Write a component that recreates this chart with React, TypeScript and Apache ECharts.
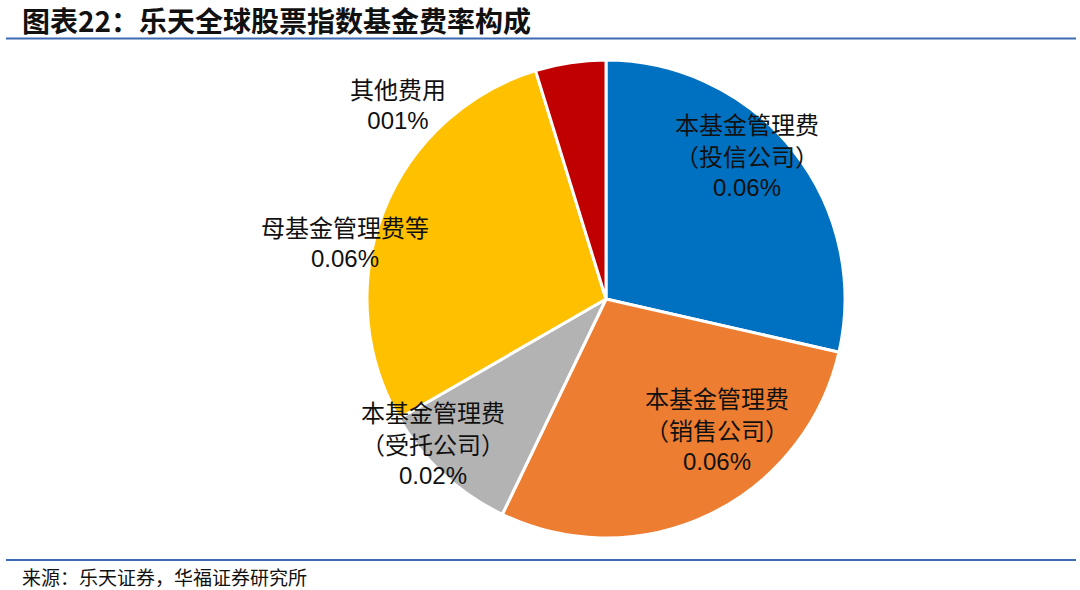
import React, { useEffect, useRef } from "react";
import * as echarts from "echarts";

const categories = [
  "本基金管理费\n（投信公司）",
  "本基金管理费\n（销售公司）",
  "本基金管理费\n（受托公司）",
  "母基金管理费等",
  "其他费用",
];
const values = [0.06, 0.06, 0.02, 0.06, 0.01];
const valueLabels = ["0.06%", "0.06%", "0.02%", "0.06%", "001%"];
const colors = ["#0070C0", "#ED7D31", "#B3B3B3", "#FFC000", "#C00000"];

const titleText = "图表22：乐天全球股票指数基金费率构成";
const sourceText = "来源：乐天证券，华福证券研究所";

// label centre positions (layout only)
const labelPos = [
  [747, 155],
  [717, 429],
  [433, 443],
  [345, 242],
  [398, 104],
];

export default function App() {
  const ref = useRef<HTMLDivElement>(null);
  useEffect(() => {
    document.body.style.margin = "0";
    const chart = echarts.init(ref.current!, null, { renderer: "svg" });
    chart.setOption({
      animation: false,
      backgroundColor: "#ffffff",
      graphic: [
        {
          type: "text",
          x: 22,
          y: 20,
          style: {
            text: titleText,
            font: "bold 28px 'Noto Sans CJK SC'",
            fill: "#111111",
            verticalAlign: "middle",
            align: "left",
          },
        },
        {
          type: "line",
          shape: { x1: 6, y1: 38.5, x2: 1076, y2: 38.5 },
          style: { stroke: "#3C6BB2", lineWidth: 2 },
        },
        {
          type: "line",
          shape: { x1: 6, y1: 560, x2: 1076, y2: 560 },
          style: { stroke: "#3C6BB2", lineWidth: 2 },
        },
        {
          type: "text",
          x: 22,
          y: 576,
          style: {
            text: sourceText,
            font: "19px 'Noto Sans CJK SC'",
            fill: "#111111",
            verticalAlign: "middle",
            align: "left",
          },
        },
      ],
      series: [
        {
          type: "pie",
          center: [606, 299],
          radius: 239,
          startAngle: 90,
          clockwise: true,
          itemStyle: { borderColor: "#ffffff", borderWidth: 3 },
          data: categories.map((name, i) => ({
            name,
            value: values[i],
            itemStyle: { color: colors[i] },
          })),
          label: {
            show: true,
            position: "inside",
            formatter: (p: any) =>
              p.name
                .split("\n")
                .map((s: string) => `{cn|${s}}`)
                .join("\n") + `\n{num|${valueLabels[p.dataIndex]}}`,
            rich: {
              cn: {
                fontFamily: "Noto Sans CJK SC",
                fontSize: 24,
                lineHeight: 32,
                color: "#111111",
                align: "center",
              },
              num: {
                fontFamily: "Liberation Sans",
                fontSize: 24,
                lineHeight: 32,
                color: "#111111",
                align: "center",
              },
            },
          },
          labelLine: { show: false },
          labelLayout: (params: any) => {
            const pos = labelPos[params.dataIndex];
            return {
              x: pos[0],
              y: pos[1],
              align: "center",
              verticalAlign: "middle",
            };
          },
        },
      ],
    });
    return () => chart.dispose();
  }, []);
  return <div ref={ref} style={{ width: 1080, height: 590 }} />;
}
